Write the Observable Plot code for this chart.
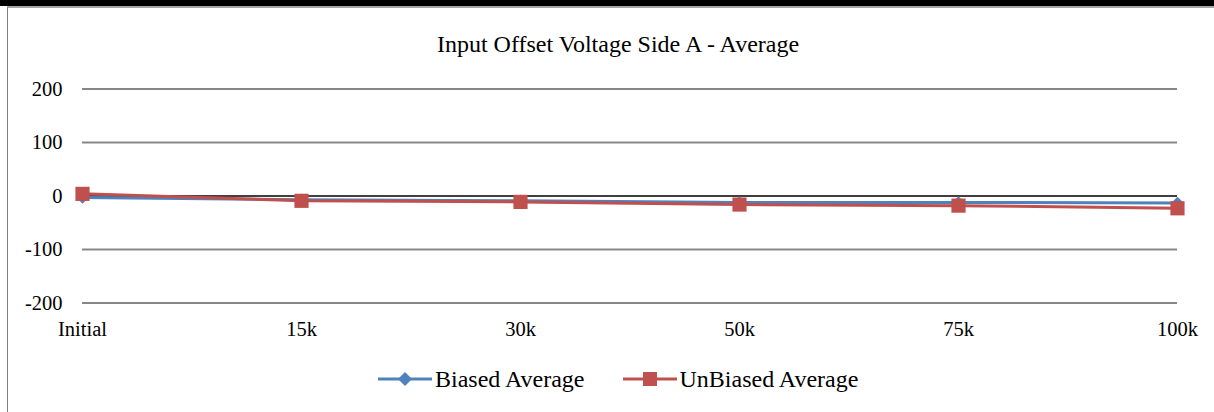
<!DOCTYPE html>
<html>
<head>
<meta charset="utf-8">
<script src="https://cdn.jsdelivr.net/npm/d3@7"></script>
<script src="https://cdn.jsdelivr.net/npm/@observablehq/plot@0.6"></script>
<style>
html, body { margin: 0; padding: 0; background: #fff; }
body { width: 1214px; height: 412px; position: relative; overflow: hidden; font-family: "Liberation Serif", "Times New Roman", serif; color: #000; }
#topbar { position: absolute; left: 0; top: 0; width: 1214px; height: 6px; background: #000; }
#frame { position: absolute; left: 7px; top: 6px; width: 1207px; height: 406px; border-top: 2px solid #a6a6a6; border-left: 1px solid #7f7f7f; box-sizing: border-box; }
#chart { position: absolute; left: 0; top: 0; }
#title { position: absolute; left: 0; width: 1236px; top: 30px; text-align: center; font-size: 24px; line-height: 28px; white-space: nowrap; }
#legend { position: absolute; left: 378px; top: 364px; height: 30px; display: flex; align-items: center; font-size: 24px; white-space: nowrap; }
#legend .item { display: flex; align-items: center; }
#legend .item + .item { margin-left: 38px; }
#legend svg { display: block; }
#legend span { margin-left: 3px; line-height: 30px; }
</style>
</head>
<body>
<div id="topbar"></div>
<div id="frame"></div>
<div id="chart"></div>
<div id="title">Input Offset Voltage Side A - Average</div>
<div id="legend"></div>
<script>
const categories = ["Initial", "15k", "30k", "50k", "75k", "100k"];
const biasedAverage = [-3, -7, -9, -12, -12, -13];
const unbiasedAverage = [4, -9, -11, -16, -18, -23];
const yTicks = [-200, -100, 0, 100, 200];
const seriesNames = ["Biased Average", "UnBiased Average"];
const seriesColors = ["#4F81BD", "#C0504D"];
const seriesSymbols = ["diamond2", "square"];

const biasedRows = categories.map((c, i) => ({cat: c, value: biasedAverage[i]}));
const unbiasedRows = categories.map((c, i) => ({cat: c, value: unbiasedAverage[i]}));

const chart = Plot.plot({
  width: 1214,
  height: 412,
  marginTop: 88.5,
  marginBottom: 109.5,
  marginLeft: 82,
  marginRight: 37,
  style: {fontFamily: "'Liberation Serif', 'Times New Roman', serif", fontSize: "20.5px", color: "#000", background: "transparent", overflow: "visible"},
  x: {type: "point", domain: categories, padding: 0, label: null},
  y: {domain: [-200, 200], label: null},
  marks: [
    Plot.ruleY(yTicks.filter(d => d !== 0), {stroke: "#878787", strokeWidth: 2}),
    Plot.ruleY([0], {stroke: "#000", strokeWidth: 1.5}),
    Plot.axisY({ticks: yTicks, tickSize: 0, tickPadding: 20, tickFormat: d => String(d), fontSize: 20.5, label: null}),
    Plot.axisX({tickSize: 0, tickPadding: 18, fontSize: 20.5, label: null}),
    Plot.line(biasedRows, {x: "cat", y: "value", stroke: seriesColors[0], strokeWidth: 3}),
    Plot.dot(biasedRows, {x: "cat", y: "value", symbol: seriesSymbols[0], r: 5.6, fill: seriesColors[0], stroke: "none"}),
    Plot.line(unbiasedRows, {x: "cat", y: "value", stroke: seriesColors[1], strokeWidth: 3}),
    Plot.dot(unbiasedRows, {x: "cat", y: "value", symbol: seriesSymbols[1], r: 8, fill: seriesColors[1], stroke: "none"})
  ]
});
document.getElementById("chart").appendChild(chart);

const legend = document.getElementById("legend");
seriesNames.forEach((name, i) => {
  const item = document.createElement("div");
  item.className = "item";
  const marker = i === 0
    ? `<polygon points="27,3 34,10 27,17 20,10" fill="${seriesColors[i]}"/>`
    : `<rect x="20" y="3" width="14" height="14" fill="${seriesColors[i]}"/>`;
  item.innerHTML = `<svg width="54" height="20"><line x1="0" x2="54" y1="10" y2="10" stroke="${seriesColors[i]}" stroke-width="3"/>${marker}</svg><span>${name}</span>`;
  legend.appendChild(item);
});
</script>
</body>
</html>
